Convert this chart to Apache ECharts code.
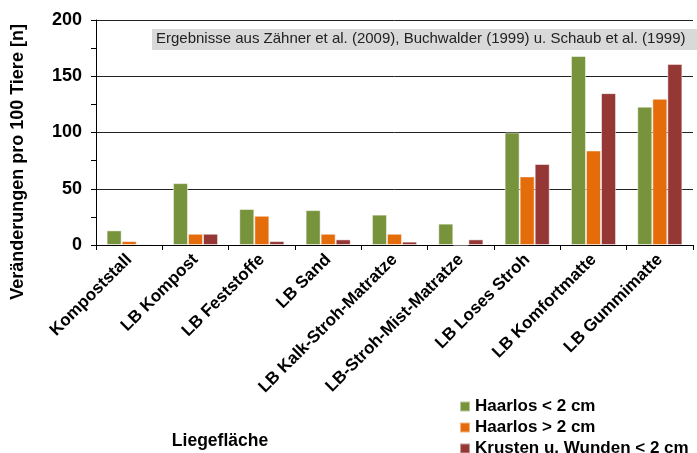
<!DOCTYPE html>
<html>
<head>
<meta charset="utf-8">
<script src="https://cdn.jsdelivr.net/npm/echarts@6/dist/echarts.min.js"></script>
<style>
  html, body { margin: 0; padding: 0; background: #fff; }
  #chart { width: 697px; height: 453px; }
</style>
</head>
<body>
<div id="chart"></div>
<script>
const categories = ['Kompoststall', 'LB Kompost', 'LB Feststoffe', 'LB Sand', 'LB Kalk-Stroh-Matratze',
  'LB-Stroh-Mist-Matratze', 'LB Loses Stroh', 'LB Komfortmatte', 'LB Gummimatte'];
const seriesNames = ['Haarlos < 2 cm', 'Haarlos > 2 cm', 'Krusten u. Wunden < 2 cm'];
const haarlosKlein = [13, 55, 32, 31, 27, 19, 100, 168, 123];
const haarlosGross = [3.5, 10, 26, 10, 10, 0, 61, 84, 130];
const krusten = [1, 10, 3.5, 5, 3, 5, 72, 135, 161];
const colors = ['#77933C', '#E46C0A', '#953735'];
const font = '"Liberation Sans", Arial, sans-serif';

const chart = echarts.init(document.getElementById('chart'));

const option = {
  animation: false,
  textStyle: { fontFamily: font },
  grid: { left: 96, right: 4, top: 20, bottom: 208 },
  legend: {
    orient: 'vertical',
    left: 454,
    top: 393,
    height: 120,
    itemWidth: 10,
    itemHeight: 10,
    itemGap: 4,
    icon: 'rect',
    textStyle: { fontSize: 17, fontWeight: 'bold', color: '#000', fontFamily: font },
    data: seriesNames,
  },
  xAxis: {
    type: 'category',
    data: categories,
    axisLine: { lineStyle: { color: '#000' } },
    axisTick: { show: true, length: 5, lineStyle: { color: '#000' } },
    axisLabel: {
      rotate: 45,
      interval: 0,
      margin: 12,
      color: '#000',
      fontSize: 17,
      fontWeight: 'bold',
      fontFamily: font,
    },
  },
  yAxis: {
    type: 'value',
    min: 0,
    max: 200,
    interval: 50,
    axisLine: { show: true, lineStyle: { color: '#000' } },
    axisTick: { show: true, length: 5, lineStyle: { color: '#000' } },
    minorTick: { show: true, splitNumber: 2, length: 5, lineStyle: { color: '#000' } },
    splitLine: { show: true, lineStyle: { color: '#222' } },
    axisLabel: {
      color: '#000',
      fontSize: 18,
      fontWeight: 'bold',
      margin: 14,
      fontFamily: font,
    },
  },
  series: [haarlosKlein, haarlosGross, krusten].map((d, i) => ({
    name: seriesNames[i],
    type: 'bar',
    data: d,
    barGap: '0%',
    barCategoryGap: '32%',
    itemStyle: { color: colors[i], borderColor: 'rgba(255,255,255,0.5)', borderWidth: 1 },
  })),
  graphic: [
    {
      type: 'rect',
      left: 152,
      top: 29,
      shape: { width: 545, height: 21 },
      style: { fill: '#d9d9d9' },
    },
    {
      type: 'text',
      left: 156,
      top: 31,
      style: {
        text: 'Ergebnisse aus Zähner et al. (2009), Buchwalder (1999) u. Schaub et al. (1999)',
        fontSize: 15,
        fontFamily: font,
        fill: '#222',
      },
    },
    {
      type: 'text',
      x: 18,
      y: 162,
      rotation: Math.PI / 2,
      style: {
        text: 'Veränderungen pro 100 Tiere [n]',
        fontSize: 18,
        fontWeight: 'bold',
        fontFamily: font,
        fill: '#000',
        align: 'center',
        verticalAlign: 'middle',
      },
    },
    {
      type: 'text',
      x: 220,
      y: 441,
      style: {
        text: 'Liegefläche',
        fontSize: 17.5,
        fontWeight: 'bold',
        fontFamily: font,
        fill: '#000',
        align: 'center',
        verticalAlign: 'middle',
      },
    },
  ],
};

chart.setOption(option);
</script>
</body>
</html>
